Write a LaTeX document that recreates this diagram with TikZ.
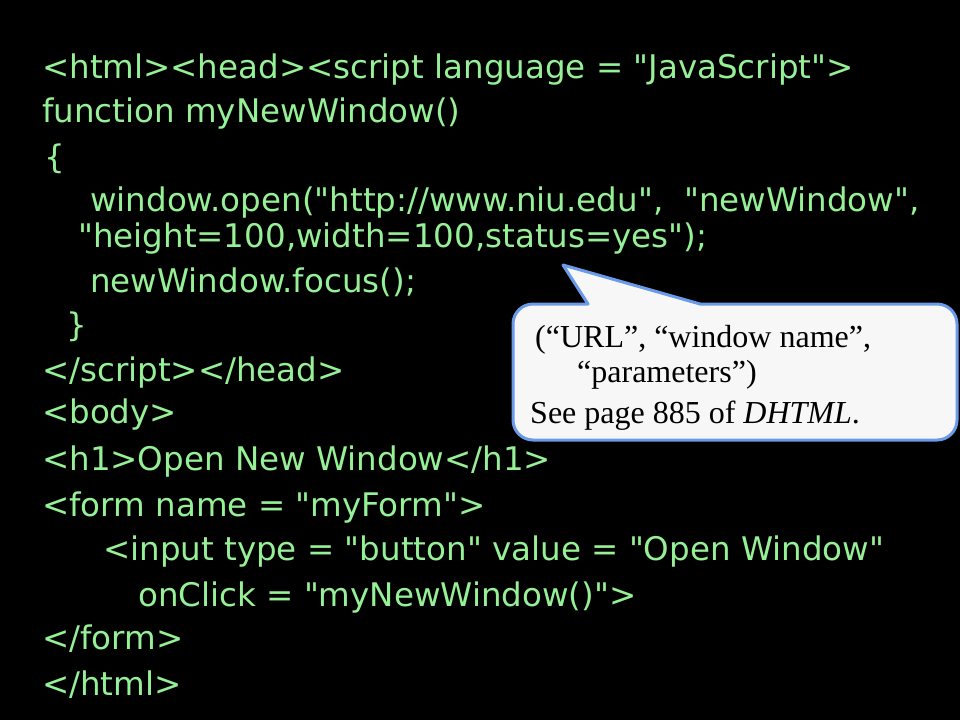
\documentclass[tikz,border=0pt]{standalone}
\usepackage{fontspec}
\usepackage{xcolor}
\usepackage{tikz}
\usetikzlibrary{positioning}

\newfontfamily\codefont{DejaVu Sans}
\setmainfont{Liberation Serif}
\definecolor{codegreen}{RGB}{150,240,150}
\definecolor{noteblue}{RGB}{106,155,232}
\definecolor{notefill}{RGB}{247,247,248}

\begin{document}
\begin{tikzpicture}[
    x=1pt, y=-1pt,
    codeline/.style={anchor=base west, inner sep=0pt, text=codegreen, font=\codefont\fontsize{32.5}{36}\selectfont},
    noteline/.style={anchor=base west, inner sep=0pt, text=black, font=\fontsize{32}{36}\selectfont},
    callout/.style={draw=noteblue, line width=3pt, fill=notefill, line join=round}
]
    % Slide background
    \fill[black] (0,0) rectangle (960,720);
    \useasboundingbox (0,0) rectangle (960,720);

    % Code lines
    \node[codeline] (l1) at (42,78) {<html><head><script language = "JavaScript">};
    \node[codeline] (l2) at (42,122) {function myNewWindow()};
    \node[codeline] (l3) at (44,168) {\{};
    \node[codeline] (l4) at (90,211) {window.open("http://www.niu.edu",\ \ "newWindow",};
    \node[codeline] (l5) at (78,247) {"height=100,width=100,status=yes");};
    \node[codeline] (l6) at (90,292) {newWindow.focus();};
    \node[codeline] (l7) at (66,336) {\}};
    \node[codeline] (l8) at (42,381) {</script></head>};
    \node[codeline] (l9) at (42,423) {<body>};
    \node[codeline] (l10) at (42,470) {<h1>Open New Window</h1>};
    \node[codeline] (l11) at (42,516) {<form name = "myForm">};
    \node[codeline] (l12) at (103,560) {<input type = "button" value = "Open Window"};
    \node[codeline] (l13) at (138,606) {onClick = "myNewWindow()">};
    \node[codeline] (l14) at (42,649) {</form>};
    \node[codeline] (l15) at (42,695) {</html>};

    % Callout box
    \coordinate (tip) at (563,265);
    \coordinate (boxnw) at (513,304);
    \coordinate (boxse) at (957,440);
    \draw[callout] (513,372) [rounded corners=20pt] -- (boxnw) [sharp corners] -- (588,304) -- (tip) -- (700,304)
        [rounded corners=20pt] -- (boxse |- boxnw) -- (boxse) -- (boxnw |- boxse) -- cycle;

    % Callout text
    \node[noteline] (n1) at (535,347) {(“URL”, “window name”,};
    \node[noteline] (n2) at (577,382) {“parameters”)};
    \node[noteline] (n3) at (530,423) {See page 885 of \textit{DHTML}.};
\end{tikzpicture}
\end{document}
